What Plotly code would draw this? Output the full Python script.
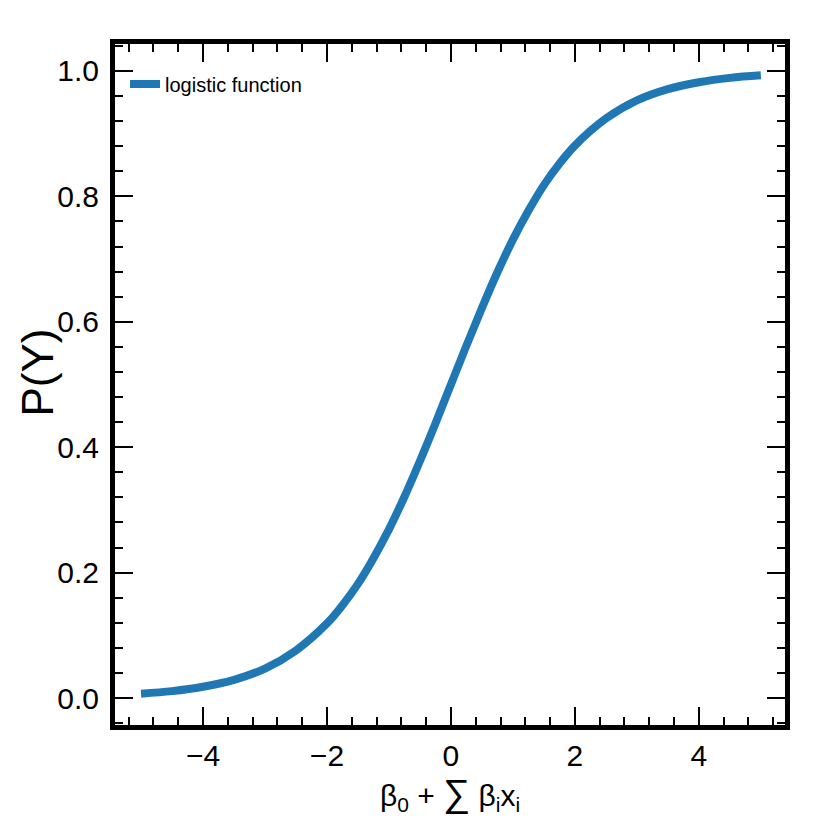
import plotly.graph_objects as go

# values
x_vals = [-5.0, -4.5, -4.0, -3.5, -3.0, -2.5, -2.0, -1.75, -1.5, -1.25, -1.0, -0.75,
          -0.5, -0.25, 0.0, 0.25, 0.5, 0.75, 1.0, 1.25, 1.5, 1.75, 2.0, 2.5, 3.0,
          3.5, 4.0, 4.5, 5.0]
p_vals = [0.007, 0.011, 0.018, 0.029, 0.047, 0.076, 0.119, 0.148, 0.182, 0.223,
          0.269, 0.321, 0.378, 0.438, 0.500, 0.562, 0.622, 0.679, 0.731, 0.777,
          0.818, 0.852, 0.881, 0.924, 0.953, 0.971, 0.982, 0.989, 0.993]

font = "Liberation Sans, Arial, sans-serif"

fig = go.Figure()
fig.add_trace(
    go.Scatter(
        x=x_vals,
        y=p_vals,
        mode="lines",
        line=dict(color="#1f77b4", width=8, shape="spline"),
        name="logistic function",
    )
)

axis_common = dict(
    showline=True,
    linecolor="black",
    linewidth=5,
    mirror="allticks",
    ticks="inside",
    ticklen=18,
    tickwidth=1.5,
    tickcolor="black",
    showgrid=False,
    zeroline=False,
    automargin=False,
    tickfont=dict(family=font, size=30, color="black"),
)

fig.update_xaxes(
    axis_common,
    range=[-5.42, 5.39],
    tick0=0,
    dtick=2,
    minor=dict(tick0=0, dtick=0.4, ticks="inside", ticklen=8, tickwidth=1.5, tickcolor="black"),
    title=dict(
        text="β<sub>0</sub> + <span style='font-size:38px'>∑</span> β<sub>i</sub>x<sub>i</sub>",
        font=dict(family=font, size=30, color="black"),
        standoff=6,
    ),
    ticklabelstandoff=0,
)
fig.update_yaxes(
    axis_common,
    range=[-0.043, 1.043],
    tick0=0,
    dtick=0.2,
    tickformat=".1f",
    minor=dict(tick0=0, dtick=0.04, ticks="inside", ticklen=8, tickwidth=1.5, tickcolor="black"),
    ticklabelstandoff=5,
)

# y title as annotation so it can sit further left
fig.add_annotation(
    text="P(Y)",
    xref="paper",
    yref="paper",
    x=0,
    y=0.5,
    xanchor="center",
    yanchor="middle",
    xshift=-78,
    yshift=12,
    textangle=-90,
    showarrow=False,
    font=dict(family=font, size=44, color="black"),
)

fig.update_layout(
    width=830,
    height=830,
    margin=dict(l=107, r=53, t=36, b=113),
    plot_bgcolor="white",
    paper_bgcolor="white",
    showlegend=True,
    legend=dict(
        x=0.015,
        y=0.97,
        xanchor="left",
        yanchor="top",
        bgcolor="rgba(0,0,0,0)",
        font=dict(family=font, size=20, color="black"),
    ),
)

fig.write_html("out.html")
